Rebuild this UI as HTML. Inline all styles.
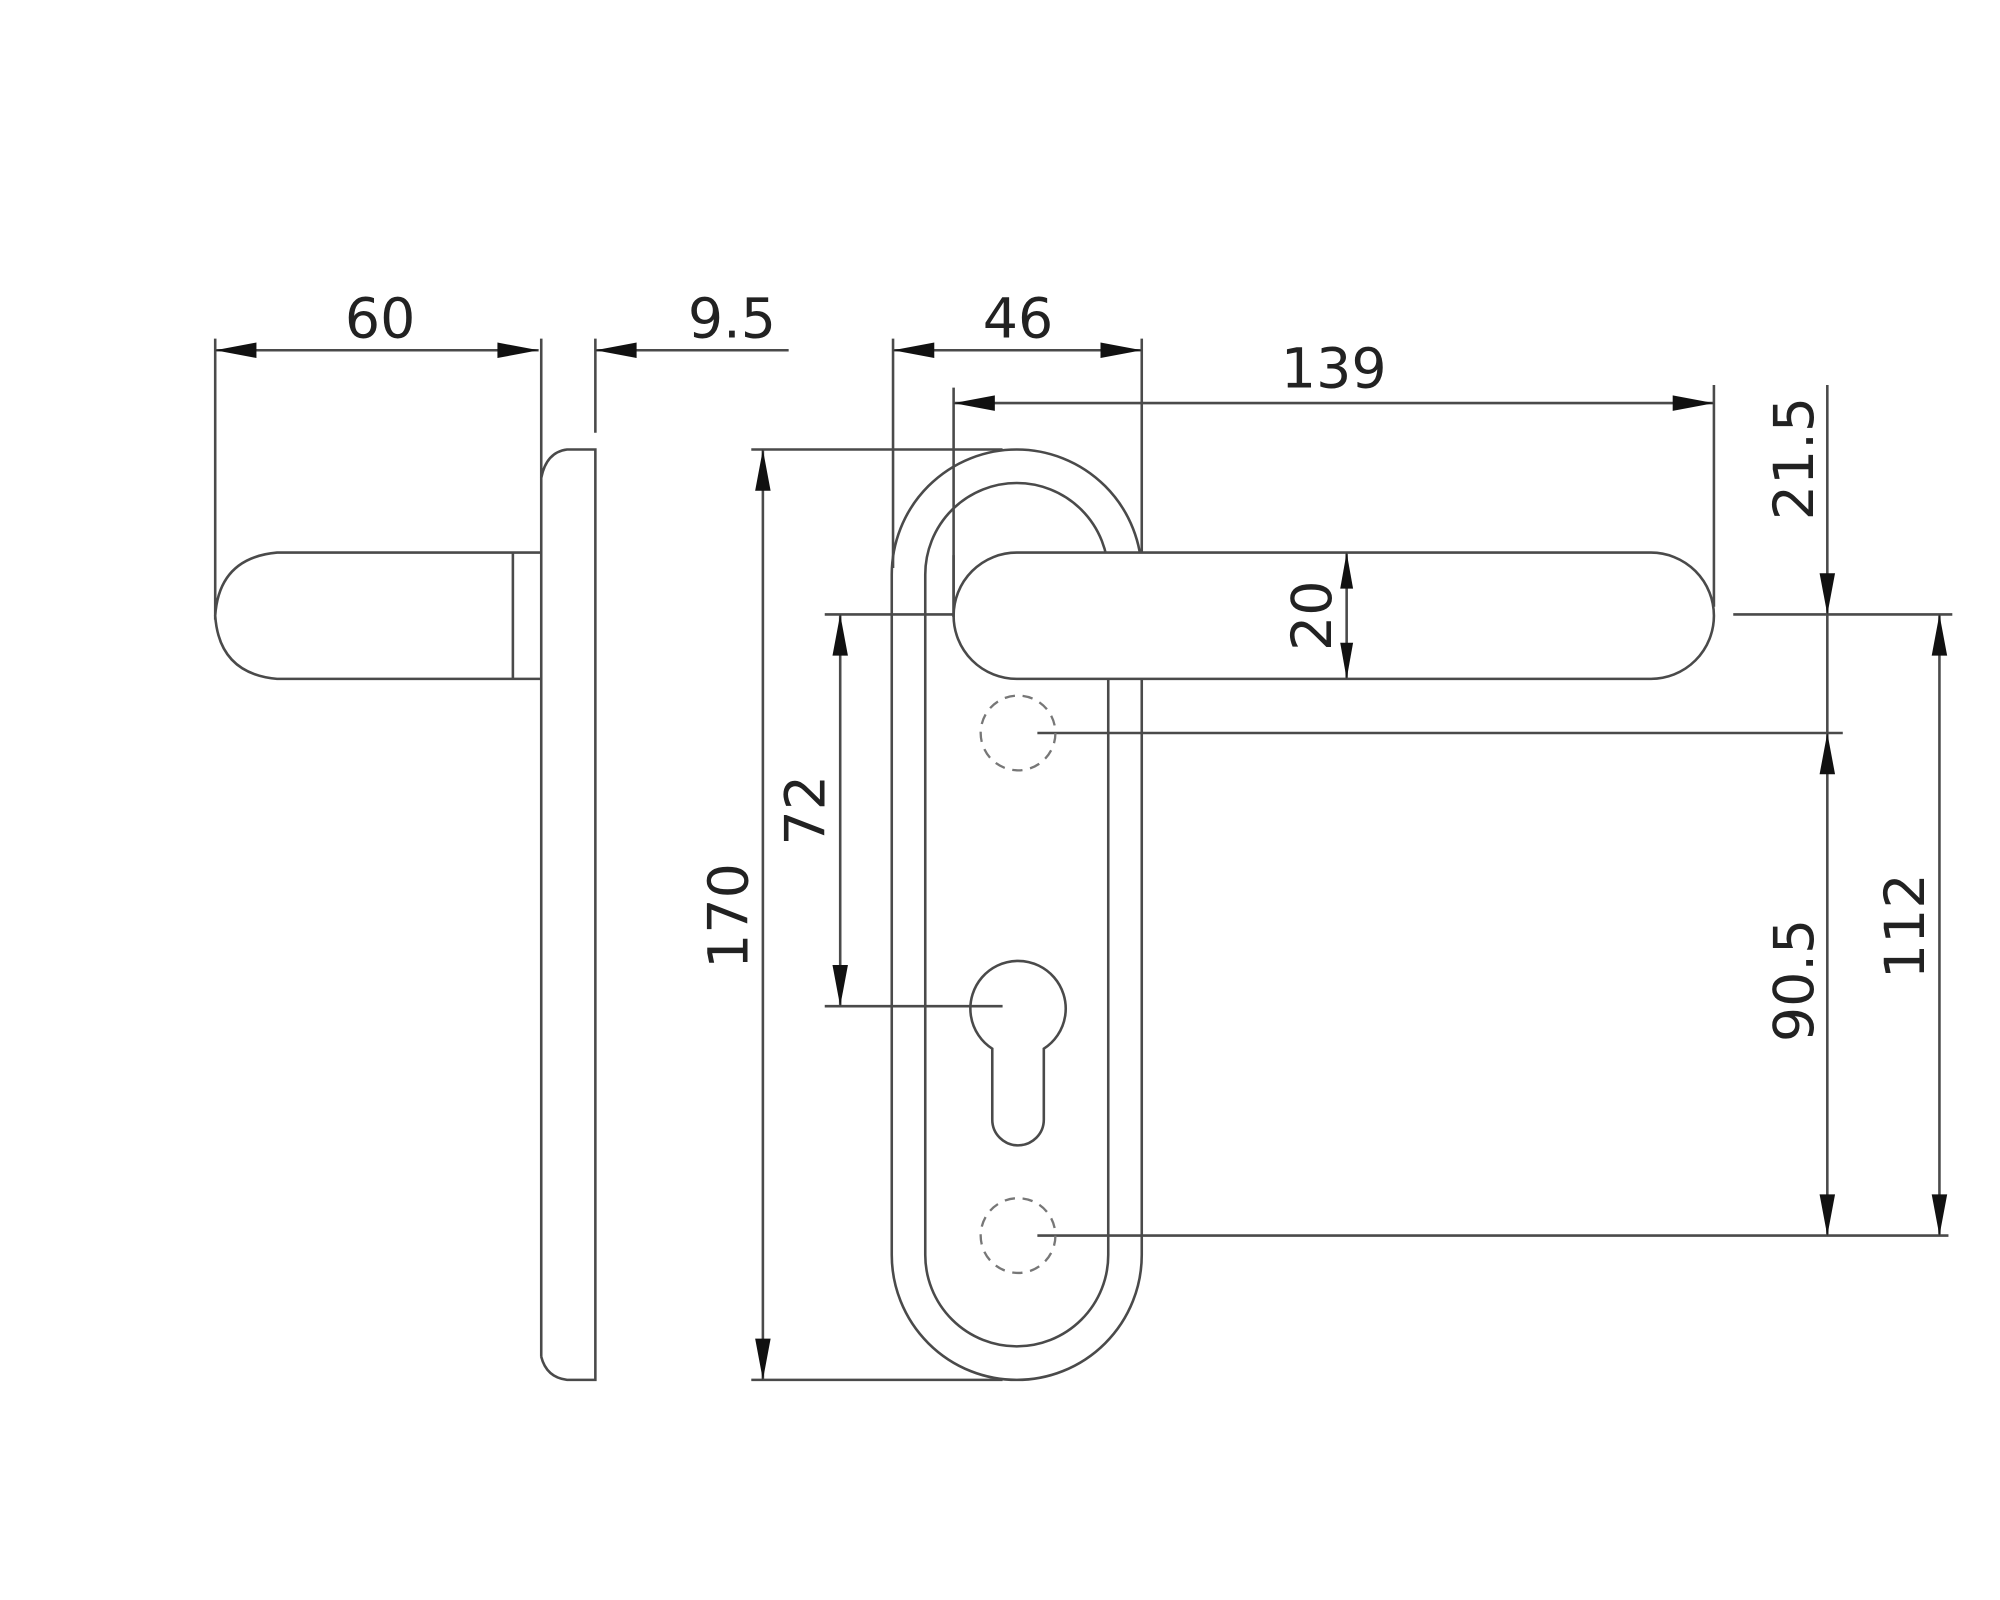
<!DOCTYPE html>
<html><head><meta charset="utf-8"><style>
html,body{margin:0;padding:0;background:#fff;}
svg{display:block;}
text{font-family:"DejaVu Sans","Liberation Sans",sans-serif;font-size:43px;fill:#222;}
</style></head><body>
<svg width="2000" height="1600" viewBox="0 0 1552 1240" xmlns="http://www.w3.org/2000/svg">
<g fill="none" stroke="#4a4a4a" stroke-width="2">
<line x1="167" y1="262" x2="167" y2="480"/>
<line x1="420" y1="262" x2="420" y2="370"/>
<line x1="462" y1="262" x2="462" y2="335"/>
<line x1="167" y1="271" x2="418" y2="271"/>
<line x1="462" y1="271" x2="612" y2="271"/>
<path d="M420,1052 L420,370 Q424,350 440,348 L462,348 L462,1070 L440,1070 Q424,1068 420,1052"/>
<path d="M420,428 L215,428 Q170,432 167,477 Q170,522 215,526 L420,526"/>
<line x1="398" y1="428" x2="398" y2="526"/>
<rect x="692" y="348" width="194" height="722" rx="97" ry="97"/>
<rect x="718" y="374" width="142" height="670" rx="71" ry="71"/>
<line x1="693" y1="262" x2="693" y2="440"/>
<line x1="886" y1="262" x2="886" y2="432"/>
<line x1="693" y1="271" x2="886" y2="271"/>
<line x1="740" y1="300" x2="740" y2="478"/>
<line x1="1330" y1="298" x2="1330" y2="470"/>
<line x1="740" y1="312" x2="1330" y2="312"/>
<line x1="583" y1="348" x2="778" y2="348"/>
<line x1="583" y1="1070" x2="778" y2="1070"/>
<line x1="592" y1="348" x2="592" y2="1070"/>
<line x1="640" y1="476" x2="778" y2="476"/>
<line x1="640" y1="780" x2="778" y2="780"/>
<line x1="652" y1="476" x2="652" y2="780"/>
<path d="M770,813 A37,37 0 1 1 810,813 L810,868 A20,20 0 0 1 770,868 Z"/>
<line x1="805" y1="568" x2="1430" y2="568"/>
<line x1="805" y1="958" x2="1512" y2="958"/>
<line x1="1345" y1="476" x2="1515" y2="476"/>
<line x1="1418" y1="298" x2="1418" y2="958"/>
<line x1="1505" y1="476" x2="1505" y2="958"/>
</g>
<path d="M789,428 L1281,428 A49,49 0 0 1 1281,526 L789,526 A49,49 0 0 1 789,428 Z" fill="#fff" stroke="#4a4a4a" stroke-width="2"/>
<g stroke="#4a4a4a" stroke-width="2">
<line x1="1045" y1="428" x2="1045" y2="526"/>
<line x1="740" y1="430" x2="740" y2="478"/>
</g>
<g fill="none" stroke="#777" stroke-width="1.8" stroke-dasharray="8,6">
<circle cx="790" cy="568" r="29"/>
<circle cx="790" cy="958" r="29"/>
</g>
<g fill="#111">
<polygon points="167,271 199,265 199,277"/>
<polygon points="418,271 386,265 386,277"/>
<polygon points="462,271 494,265 494,277"/>
<polygon points="693,271 725,265 725,277"/>
<polygon points="886,271 854,265 854,277"/>
<polygon points="740,312 772,306 772,318"/>
<polygon points="1330,312 1298,306 1298,318"/>
<polygon points="592,348 586,380 598,380"/>
<polygon points="592,1070 586,1038 598,1038"/>
<polygon points="652,476 646,508 658,508"/>
<polygon points="652,780 646,748 658,748"/>
<polygon points="1045,428 1040,456 1050,456"/>
<polygon points="1045,526 1040,498 1050,498"/>
<polygon points="1418,476 1412,444 1424,444"/>
<polygon points="1418,568 1412,600 1424,600"/>
<polygon points="1418,958 1412,926 1424,926"/>
<polygon points="1505,476 1499,508 1511,508"/>
<polygon points="1505,958 1499,926 1511,926"/>
</g>
<text x="295" y="261" text-anchor="middle">60</text>
<text x="568" y="261" text-anchor="middle">9.5</text>
<text x="790" y="261" text-anchor="middle">46</text>
<text x="1035" y="300" text-anchor="middle">139</text>
<text transform="translate(580,710) rotate(-90)" text-anchor="middle">170</text>
<text transform="translate(640,628) rotate(-90)" text-anchor="middle">72</text>
<text transform="translate(1033,477) rotate(-90)" text-anchor="middle">20</text>
<text transform="translate(1407,355) rotate(-90)" text-anchor="middle">21.5</text>
<text transform="translate(1407,760) rotate(-90)" text-anchor="middle">90.5</text>
<text transform="translate(1493,718) rotate(-90)" text-anchor="middle">112</text>
</svg>
</body></html>
